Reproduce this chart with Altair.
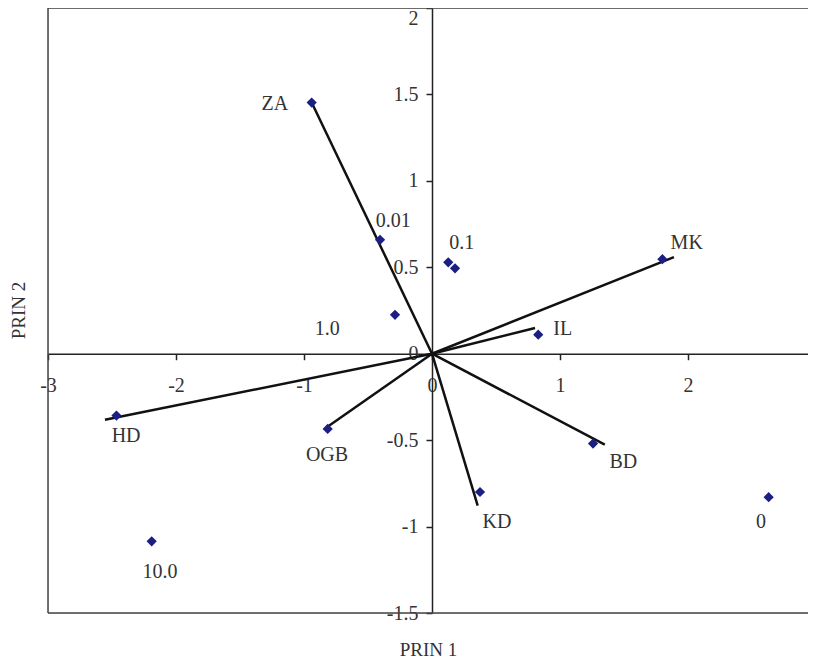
import altair as alt
import pandas as pd

# ---- data ----
point_names = ["ZA", "0.01", "1.0", "0.1", "0.1", "MK", "IL", "HD", "OGB", "BD", "KD", "10.0", "0"]
point_x = [-0.94, -0.406, -0.289, 0.127, 0.18, 1.80, 0.83, -2.465, -0.815, 1.258, 0.375, -2.19, 2.63]
point_y = [1.453, 0.659, 0.225, 0.529, 0.494, 0.547, 0.110, -0.358, -0.435, -0.52, -0.80, -1.085, -0.83]

vector_names = ["ZA", "MK", "IL", "HD", "OGB", "BD", "KD"]
vector_x = [-0.94, 1.89, 0.805, -2.555, -0.83, 1.35, 0.357]
vector_y = [1.453, 0.559, 0.149, -0.382, -0.43, -0.526, -0.879]

label_text = ["ZA", "0.01", "1.0", "0.1", "MK", "IL", "HD", "OGB", "BD", "KD", "10.0", "0"]
label_x = [-1.227, -0.302, -0.818, 0.232, 1.99, 1.021, -2.39, -0.82, 1.495, 0.508, -2.125, 2.57]
label_y = [1.445, 0.77, 0.143, 0.643, 0.64, 0.143, -0.478, -0.584, -0.626, -0.971, -1.264, -0.975]

x_ticks = [-3, -2, -1, 0, 1, 2]
x_tick_labels = ["-3", "-2", "-1", "0", "1", "2"]
y_ticks = [-1.5, -1, -0.5, 0, 0.5, 1, 1.5, 2]
y_tick_labels = ["-1.5", "-1", "-0.5", "0", "0.5", "1", "1.5", "2"]

# the reference is cropped just short of x = 3 on the right
x_domain = [-3, 2.9375]
y_domain = [-1.5, 2]

# ---- layout ----
W, H = 760, 605
FONT = "Liberation Serif"
TXT = "#333333"

x_off = -H * (0 - y_domain[0]) / (y_domain[1] - y_domain[0])
y_off = -W * (0 - x_domain[0]) / (x_domain[1] - x_domain[0])


def label_expr(vals, labs):
    pairs = ", ".join(f"'{v}': '{l}'" for v, l in zip(vals, labs))
    return "{" + pairs + "}[datum.value]"


x_axis = alt.Axis(
    values=x_ticks, labelExpr=label_expr(x_ticks, x_tick_labels), grid=False,
    offset=x_off, domainColor="#222", domainWidth=1.5, tickColor="#222",
    tickWidth=1.5, tickSize=6, labelPadding=16, labelFont=FONT, labelFontSize=20,
    labelColor=TXT, labelFlush=False, labelOverlap=False,
    title="PRIN 1", titleFont=FONT, titleFontSize=19, titleFontWeight="normal",
    titleColor=TXT, titleY=296, titleBaseline="middle",
)
y_axis = alt.Axis(
    values=y_ticks, labelExpr=label_expr(y_ticks, y_tick_labels), grid=False,
    offset=y_off, domainColor="#222", domainWidth=1.5, tickColor="#222",
    tickWidth=1.5, tickSize=6, labelPadding=8, labelFont=FONT, labelFontSize=20,
    labelColor=TXT, labelFlush=False, labelOverlap=False,
    labelBaseline={"condition": {"test": f"datum.value == {y_domain[1]}", "value": "top"},
                   "value": "middle"},
    title="PRIN 2", titleFont=FONT, titleFontSize=19, titleFontWeight="normal",
    titleColor=TXT, titleX=-414, titleY=302, titleBaseline="middle", titleAngle=-90,
)

xs = alt.Scale(domain=x_domain, nice=False, zero=False)
ys = alt.Scale(domain=y_domain, nice=False, zero=False)


def X(f):
    return alt.X(f, type="quantitative", scale=xs, axis=x_axis)


def Y(f):
    return alt.Y(f, type="quantitative", scale=ys, axis=y_axis)


pts = pd.DataFrame({"name": point_names, "px": point_x, "py": point_y})
vec = pd.DataFrame({"name": vector_names, "vx": vector_x, "vy": vector_y,
                    "ox": [0.0] * len(vector_names), "oy": [0.0] * len(vector_names)})
lab = pd.DataFrame({"text": label_text, "lx": label_x, "ly": label_y})

# plot frame (left, top, bottom edges of the domain)
frame = pd.DataFrame({
    "fx": [x_domain[0], x_domain[0], x_domain[0]],
    "fy": [y_domain[0], y_domain[1], y_domain[0]],
    "fx2": [x_domain[0], x_domain[1], x_domain[1]],
    "fy2": [y_domain[1], y_domain[1], y_domain[0]],
})

frame_rules = alt.Chart(frame).mark_rule(color="#444", strokeWidth=1.5).encode(
    x=X("fx"), y=Y("fy"), x2="fx2", y2="fy2"
)
rules = alt.Chart(vec).mark_rule(color="#111", strokeWidth=2.5).encode(
    x=X("ox"), y=Y("oy"), x2="vx", y2="vy"
)
points = alt.Chart(pts).mark_point(
    shape="diamond", filled=True, size=105, color="#1b1f84", opacity=1
).encode(x=X("px"), y=Y("py"))
labels = alt.Chart(lab).mark_text(
    font=FONT, fontSize=20, color=TXT, align="center", baseline="middle"
).encode(x=X("lx"), y=Y("ly"), text="text")

chart = alt.layer(frame_rules, rules, points, labels).properties(
    width=W, height=H,
    autosize=alt.AutoSizeParams(type="none"),
    padding={"left": 40, "top": 0, "right": 0, "bottom": 46},
).configure_view(strokeWidth=0).configure(background="white")

chart.save("out.html", embed_options={"renderer": "svg", "actions": False})
